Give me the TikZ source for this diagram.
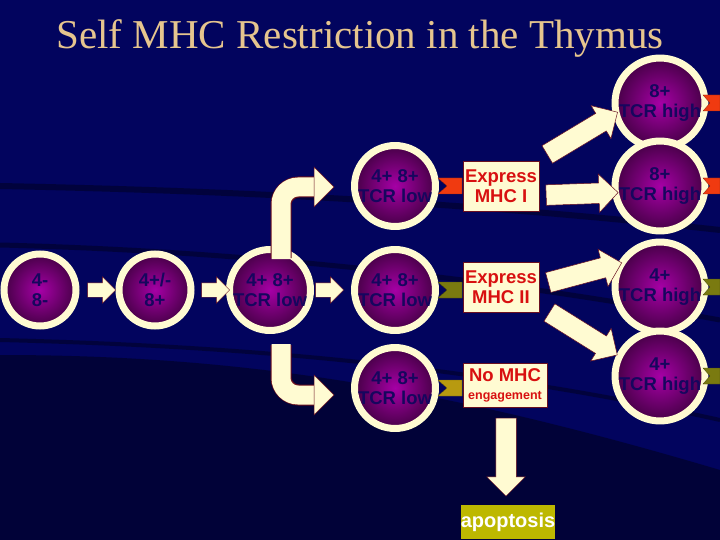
\documentclass[tikz,border=0pt]{standalone}
\usepackage{fontspec}
\setsansfont{Liberation Sans}
\newfontfamily\titlefont{Liberation Serif}
\usetikzlibrary{shapes.arrows}
\definecolor{bg}{HTML}{02045E}
\definecolor{cream}{HTML}{FFFBD2}
\definecolor{edge}{HTML}{6A1020}
\definecolor{celltext}{HTML}{16065E}
\definecolor{tan}{HTML}{E6C58E}
\definecolor{mhcred}{HTML}{D81010}
\definecolor{flagred}{HTML}{F03A10}
\definecolor{flagolive}{HTML}{7A7A10}
\definecolor{flaggold}{HTML}{B89A10}
\definecolor{apop}{HTML}{BDB800}
\tikzset{
  cell/.style={circle, minimum size=72pt, inner sep=0pt, draw=cream, line width=7pt,
    inner color=violet!70!magenta, outer color=violet!55!black,
    font=\sffamily\bfseries\fontsize{18.5}{20}\selectfont, text=celltext, align=center},
  mhcbox/.style={rectangle, fill=cream, draw=edge, line width=0.6pt, inner sep=2pt,
    font=\sffamily\bfseries\fontsize{18.5}{20}\selectfont, text=mhcred, align=center},
  blockarrow/.style={single arrow, fill=cream, draw=edge, line width=0.5pt, inner sep=10pt,
    single arrow head extend=9pt},
  smallarrow/.style={single arrow, fill=cream, draw=edge, line width=0.4pt, inner sep=7pt,
    single arrow head extend=6pt, minimum height=28pt},
  flag/.style={fill=#1, draw=#1!60!black, line width=0.3pt},
  streak/.style={line width=#1, black!70!bg, opacity=0.5}
}
\begin{document}
\begin{tikzpicture}[x=1pt,y=-1pt]
\fill[bg] (0,0) rectangle (720,540);
\useasboundingbox (0,0) rectangle (720,540);
% background streaks
\draw[streak=6pt] (0,186) .. controls (200,190) and (450,200) .. (720,230);
\draw[streak=5pt] (0,245) .. controls (200,250) and (450,270) .. (720,320);
\draw[streak=4pt] (0,340) .. controls (200,345) and (450,360) .. (720,420);
\fill[black!80!bg, opacity=0.5] (0,355) .. controls (250,355) and (450,390) .. (720,470) -- (720,540) -- (0,540) -- cycle;
% title
\node (title) at (360,38) {\titlefont\fontsize{41}{41}\selectfont\color{tan}Self MHC Restriction in the Thymus};
% left chain
\node[cell] (c1) at (40,290) {4-\\8-};
\node[cell] (c2) at (155,290) {4+/-\\8+};
\node[cell] (c3) at (270,290) {4+ 8+\\TCR low};
\node[smallarrow] (a1) at (98,290) {};
\node[smallarrow] (a2) at (212,290) {};
\node[smallarrow] (a3) at (326,290) {};
% middle cells
\node[cell] (m1) at (395,186) {4+ 8+\\TCR low};
\node[cell] (m2) at (395,290) {4+ 8+\\TCR low};
\node[cell] (m3) at (395,388) {4+ 8+\\TCR low};
% curved arrows
\coordinate (ub) at (281,258);
\coordinate (ue) at (316,187);
\draw[edge, line width=21pt, rounded corners=18pt] (ub) |- (ue);
\draw[cream, line width=19pt, rounded corners=17pt] ([yshift=-1pt]ub) |- ([xshift=1pt]ue);
\fill[cream, draw=edge, line width=0.5pt] (314,167) -- (334,187) -- (314,207) -- cycle;
\coordinate (db) at (281,345);
\coordinate (de) at (316,395);
\draw[edge, line width=21pt, rounded corners=18pt] (db) |- (de);
\draw[cream, line width=19pt, rounded corners=17pt] ([yshift=1pt]db) |- ([xshift=1pt]de);
\fill[cream, draw=edge, line width=0.5pt] (314,375) -- (334,395) -- (314,415) -- cycle;
% flags
\foreach \y/\c in {186/flagred,290/flagolive,388/flaggold}{
  \fill[flag=\c] (438,\y-8) -- (462,\y-8) -- (462,\y+8) -- (438,\y+8) -- (447,\y) -- cycle;
}
% boxes
\node[mhcbox, minimum width=72pt, minimum height=50pt] (b1) at (501,186) {Express\\MHC I};
\node[mhcbox, minimum width=72pt, minimum height=50pt] (b2) at (501,287) {Express\\MHC II};
\node[mhcbox, minimum width=84pt, minimum height=44pt] (b3) at (505,385) {No MHC\\[-2pt]{\fontsize{12.5}{13}\selectfont engagement}};
% right cells
\node[cell] (r1) at (660,103) {8+\\TCR high};
\node[cell] (r2) at (660,186) {8+\\TCR high};
\node[cell] (r3) at (660,287) {4+\\TCR high};
\node[cell] (r4) at (660,376) {4+\\TCR high};
\foreach \y/\c in {103/flagred,186/flagred,287/flagolive,376/flagolive}{
  \fill[flag=\c] (720,\y-8) -- (703,\y-8) -- (710,\y) -- (703,\y+8) -- (720,\y+8) -- cycle;
}
% block arrows
\node[blockarrow, minimum height=82pt, rotate=31] (x1) at (578,136) {};
\node[blockarrow, minimum height=72pt, rotate=2] (x2) at (577,194) {};
\node[blockarrow, minimum height=76pt, rotate=15] (x3) at (580,274) {};
\node[blockarrow, minimum height=80pt, rotate=-32] (x4) at (579,331) {};
% apoptosis
\node[blockarrow, minimum height=78pt, rotate=-90] (x5) at (506,452) {};
\node[fill=apop, minimum width=91pt, minimum height=34pt, inner sep=0pt,
  font=\sffamily\bfseries\fontsize{20}{20}\selectfont, text=white] (ap) at (508,522) {apoptosis};
\end{tikzpicture}
\end{document}
